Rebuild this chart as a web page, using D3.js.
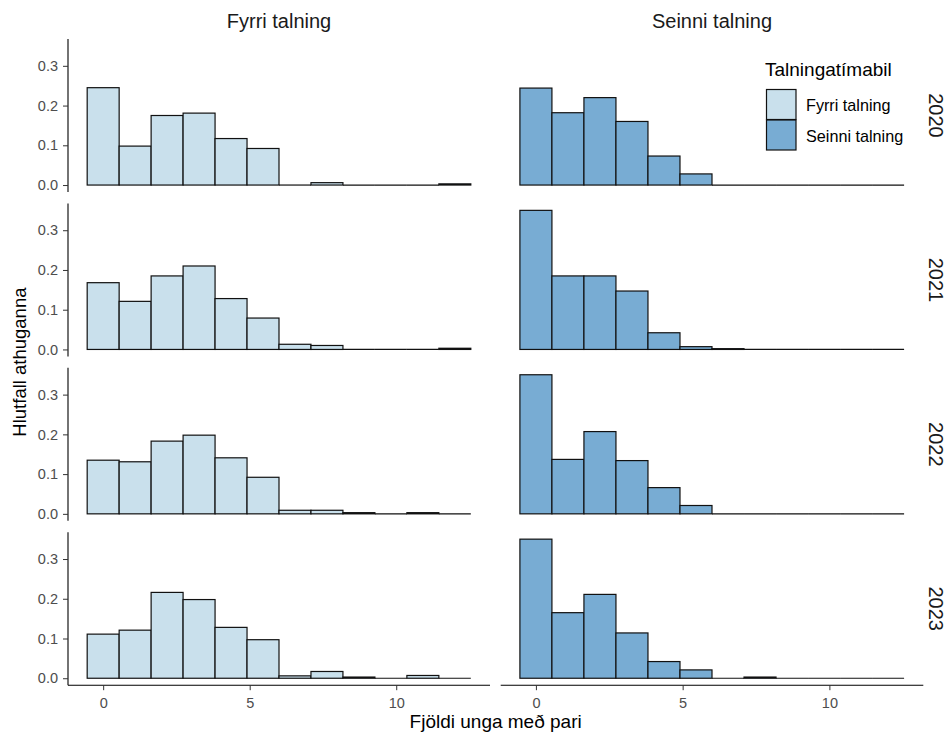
<!DOCTYPE html>
<html><head><meta charset="utf-8">
<script src="https://cdn.jsdelivr.net/npm/d3@7"></script>
<style>body{margin:0;background:#fff}svg{display:block;font-family:"Liberation Sans",Arial,sans-serif}</style>
</head><body>
<script>
// ---- data ----
const periods = ["Fyrri talning", "Seinni talning"];
const years = ["2020", "2021", "2022", "2023"];
const binCenters = [0, 1, 2, 3, 4, 5, 6, 7, 8, 9, 10, 11].map(i => i * 12 / 11);
const binWidth = 12 / 11;
const yTicks = [0.0, 0.1, 0.2, 0.3];
const xTicks = [0, 5, 10];
// density per bin, per year
const fyrri2020 = [0.245, 0.098, 0.175, 0.181, 0.117, 0.092, 0, 0.006, 0, 0, 0, 0.003];
const seinni2020 = [0.244, 0.182, 0.220, 0.160, 0.073, 0.028, 0, 0, 0, 0, 0, 0];
const fyrri2021 = [0.168, 0.121, 0.185, 0.210, 0.128, 0.079, 0.013, 0.010, 0, 0, 0, 0.003];
const seinni2021 = [0.350, 0.185, 0.185, 0.147, 0.042, 0.007, 0.002, 0, 0, 0, 0, 0];
const fyrri2022 = [0.135, 0.131, 0.183, 0.198, 0.141, 0.092, 0.009, 0.009, 0.003, 0, 0.003, 0];
const seinni2022 = [0.350, 0.137, 0.207, 0.134, 0.066, 0.021, 0, 0, 0, 0, 0, 0];
const fyrri2023 = [0.111, 0.121, 0.216, 0.198, 0.128, 0.097, 0.006, 0.017, 0.003, 0, 0.007, 0];
const seinni2023 = [0.350, 0.165, 0.211, 0.114, 0.042, 0.021, 0, 0.003, 0, 0, 0, 0];
const series = {
  "Fyrri talning": [fyrri2020, fyrri2021, fyrri2022, fyrri2023],
  "Seinni talning": [seinni2020, seinni2021, seinni2022, seinni2023]
};
const fills = ["#c9e0ec", "#78acd3"];

// ---- layout ----
const W = 951, H = 738;
const colX = [[68, 490], [500.7, 923.3]];
const rowTop0 = 39, rowH = 153, rowStep = 164.4;

const svg = d3.select("body").append("svg").attr("width", W).attr("height", H);

const allVals = Object.values(series).flat(2);
const ymax = d3.max(allVals);
const xmin = -binWidth / 2, xmaxD = 12 + binWidth / 2;
const xpad = (xmaxD - xmin) * 0.05;

const textCol = "#4d4d4d";
const tickFont = 14.5;

periods.forEach((p, c) => {
  const x = d3.scaleLinear().domain([xmin - xpad, xmaxD + xpad]).range(colX[c]);
  // strip title
  svg.append("text").attr("x", (colX[c][0] + colX[c][1]) / 2).attr("y", 28)
    .attr("text-anchor", "middle").attr("font-size", 20).attr("fill", "#1a1a1a").text(p);
  years.forEach((yr, r) => {
    const top = rowTop0 + r * rowStep;
    const y = d3.scaleLinear().domain([-ymax * 0.05, ymax * 1.05]).range([top + rowH, top]);
    const g = svg.append("g");
    const vals = series[p][r];
    const bins = vals.map((v, i) => ({v, x0: binCenters[i] - binWidth / 2, x1: binCenters[i] + binWidth / 2}));
    g.selectAll("rect").data(bins.filter(b => b.v > 0)).join("rect")
      .attr("x", b => x(b.x0))
      .attr("width", b => x(b.x1) - x(b.x0))
      .attr("y", b => y(b.v))
      .attr("height", b => y(0) - y(b.v))
      .attr("fill", fills[c]).attr("stroke", "#111").attr("stroke-width", 1.2);
    g.selectAll("line.zero").data(bins.filter(b => b.v === 0)).join("line").attr("class", "zero")
      .attr("x1", b => x(b.x0)).attr("x2", b => x(b.x1))
      .attr("y1", y(0)).attr("y2", y(0))
      .attr("stroke", "#111").attr("stroke-width", 1.2);
    if (c === 0) {
      const ax = svg.append("g").attr("transform", `translate(${colX[0][0]},0)`)
        .call(d3.axisLeft(y).tickValues(yTicks).tickFormat(d3.format(".1f")).tickSize(5).tickPadding(5));
      ax.select(".domain").attr("d", `M0,${top}V${top + rowH}`).attr("stroke", "#000").attr("stroke-width", 1.1);
      ax.selectAll(".tick line").attr("stroke", "#333");
      ax.selectAll(".tick text").attr("font-size", tickFont).attr("fill", textCol).attr("font-family", "Liberation Sans, Arial, sans-serif");
    }
    if (r === years.length - 1) {
      const ax = svg.append("g").attr("transform", `translate(0,${top + rowH})`)
        .call(d3.axisBottom(x).tickValues(xTicks).tickSize(5).tickPadding(8));
      ax.select(".domain").attr("d", `M${colX[c][0]},0H${colX[c][1]}`).attr("stroke", "#000").attr("stroke-width", 1.1);
      ax.selectAll(".tick line").attr("stroke", "#333");
      ax.selectAll(".tick text").attr("font-size", tickFont).attr("fill", textCol).attr("font-family", "Liberation Sans, Arial, sans-serif");
    }
    if (c === 1) {
      const cy = top + rowH / 2;
      svg.append("text").attr("transform", `translate(929,${cy}) rotate(90)`)
        .attr("text-anchor", "middle").attr("font-size", 20).attr("fill", "#1a1a1a").text(yr);
    }
  });
});

// axis titles
svg.append("text").attr("x", (colX[0][0] + colX[1][1]) / 2).attr("y", 728)
  .attr("text-anchor", "middle").attr("font-size", 19).attr("fill", "#000").text("Fjöldi unga með pari");
svg.append("text").attr("transform", `translate(26,${rowTop0 + (3 * rowStep + rowH) / 2}) rotate(-90)`)
  .attr("text-anchor", "middle").attr("font-size", 18.5).attr("fill", "#000").text("Hlutfall athuganna");

// legend
const lg = svg.append("g");
lg.append("text").attr("x", 765).attr("y", 76).attr("font-size", 19).attr("fill", "#000").text("Talningatímabil");
periods.forEach((p, i) => {
  lg.append("rect").attr("x", 766.5).attr("y", 89.5 + i * 30.5).attr("width", 29.5).attr("height", 30)
    .attr("fill", fills[i]).attr("stroke", "#111").attr("stroke-width", 1.2);
  lg.append("text").attr("x", 806).attr("y", 111 + i * 30.5).attr("font-size", 16.2).attr("fill", "#000").text(p);
});
</script>
</body></html>
